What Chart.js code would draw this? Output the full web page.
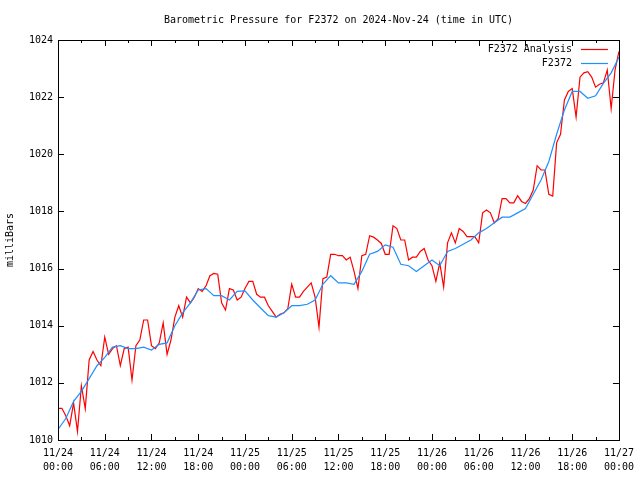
<!DOCTYPE html>
<html>
<head>
<meta charset="utf-8">
<title>Barometric Pressure F2372</title>
<script src="https://cdn.jsdelivr.net/npm/chart.js@4.4.1/dist/chart.umd.min.js"></script>
<style>
  body { margin: 0; background: #fff; }
  canvas { display: block; }
</style>
</head>
<body>
<canvas id="pressureChart" width="640" height="480"></canvas>
<script>
// analysis values, every 30 minutes from 11/24 00:00 (hours 0..72)
const analysisValues = [
    1011.11, 1011.11, 1010.85, 1010.5, 1011.3, 1010.3, 1011.9, 1011.1, 1012.8, 1013.1,
    1012.8, 1012.6, 1013.6, 1013.0, 1013.2, 1013.3, 1012.6, 1013.2, 1013.25, 1012.1,
    1013.3, 1013.5, 1014.2, 1014.2, 1013.3, 1013.2, 1013.4, 1014.1, 1013.0, 1013.5,
    1014.3, 1014.7, 1014.3, 1015.0, 1014.8, 1015.0, 1015.3, 1015.2, 1015.4, 1015.75,
    1015.83, 1015.8, 1014.8, 1014.55, 1015.3, 1015.25, 1014.9, 1015.0, 1015.3, 1015.55,
    1015.55, 1015.1, 1015.0, 1015.0, 1014.7, 1014.5, 1014.3, 1014.4, 1014.45, 1014.6,
    1015.45, 1015.0, 1015.0, 1015.2, 1015.35, 1015.5, 1015.0, 1013.95, 1015.65, 1015.7,
    1016.5, 1016.5, 1016.45, 1016.45, 1016.3, 1016.4, 1015.9, 1015.3, 1016.45, 1016.5,
    1017.15, 1017.1, 1017.0, 1016.88, 1016.5, 1016.5, 1017.5, 1017.4, 1017.0, 1017.0,
    1016.3, 1016.4, 1016.4, 1016.6, 1016.7, 1016.3, 1016.1, 1015.55, 1016.2, 1015.35,
    1016.9, 1017.25, 1016.9, 1017.4, 1017.3, 1017.12, 1017.12, 1017.12, 1016.9, 1017.95,
    1018.05, 1017.95, 1017.6, 1017.75, 1018.45, 1018.45, 1018.3, 1018.3, 1018.55, 1018.35,
    1018.28, 1018.45, 1018.75, 1019.6, 1019.45, 1019.45, 1018.6, 1018.54, 1020.4, 1020.7,
    1021.9, 1022.2, 1022.3, 1021.3, 1022.7, 1022.85, 1022.89, 1022.7, 1022.35, 1022.45,
    1022.5, 1022.95, 1021.6, 1022.95, 1023.6
];

// station values, every hour (hours 0..72)
const stationValues = [
    1010.37, 1010.75, 1011.35, 1011.7, 1012.15, 1012.6, 1012.89, 1013.25, 1013.3, 1013.2,
    1013.2, 1013.25, 1013.15, 1013.35, 1013.4, 1014.0, 1014.45, 1014.8, 1015.25, 1015.3,
    1015.05, 1015.05, 1014.9, 1015.2, 1015.22, 1014.9, 1014.62, 1014.35, 1014.3, 1014.45,
    1014.7, 1014.7, 1014.75, 1014.9, 1015.45, 1015.75, 1015.5, 1015.5, 1015.45, 1015.9,
    1016.5, 1016.6, 1016.83, 1016.75, 1016.15, 1016.1, 1015.9, 1016.1, 1016.3, 1016.1,
    1016.6, 1016.7, 1016.85, 1017.0, 1017.25, 1017.4, 1017.6, 1017.8, 1017.8, 1017.95,
    1018.1, 1018.6, 1019.1, 1019.75, 1020.7, 1021.55, 1022.2, 1022.2, 1021.96, 1022.05,
    1022.48, 1022.85, 1023.4
];

const tickDates = ['11/24', '11/24', '11/24', '11/24', '11/25', '11/25', '11/25',
    '11/25', '11/26', '11/26', '11/26', '11/26', '11/27'];
const tickTimes = ['00:00', '06:00', '12:00', '18:00', '00:00', '06:00', '12:00',
    '18:00', '00:00', '06:00', '12:00', '18:00', '00:00'];

const TITLE = 'Barometric Pressure for F2372 on 2024-Nov-24 (time in UTC)';
const RED = '#ff0000';
const BLUE = '#1e90ff';
const FONT = { family: 'DejaVu Sans Mono', size: 10, weight: 'normal' };

const analysisPoints = analysisValues.map((v, i) => ({ x: i * 0.5, y: v }));
const stationPoints = stationValues.map((v, i) => ({ x: i, y: v }));

// frame with gnuplot style inward ticks, title and legend
const framePlugin = {
    id: 'frame',
    beforeDraw(chart) {
        const ctx = chart.ctx;
        ctx.save();
        ctx.fillStyle = '#fff';
        ctx.fillRect(0, 0, chart.width, chart.height);
        ctx.restore();
    },
    afterDraw(chart) {
        const ctx = chart.ctx;
        const a = chart.chartArea;
        const xs = chart.scales.x;
        const ys = chart.scales.y;
        ctx.save();
        ctx.strokeStyle = '#000';
        ctx.lineWidth = 1;
        ctx.beginPath();
        for (let h = 0; h <= 72; h += 3) {
            const px = Math.round(xs.getPixelForValue(h)) + 0.5;
            const len = h % 6 === 0 ? 6 : 3;
            ctx.moveTo(px, a.bottom);
            ctx.lineTo(px, a.bottom - len);
            ctx.moveTo(px, a.top);
            ctx.lineTo(px, a.top + len);
        }
        for (let p = 1010; p <= 1024; p += 2) {
            const py = Math.round(ys.getPixelForValue(p)) + 0.5;
            ctx.moveTo(a.left, py);
            ctx.lineTo(a.left + 6, py);
            ctx.moveTo(a.right, py);
            ctx.lineTo(a.right - 6, py);
        }
        ctx.stroke();
        ctx.strokeRect(Math.round(a.left) + 0.5, Math.round(a.top) + 0.5,
            Math.round(a.right - a.left), Math.round(a.bottom - a.top));

        ctx.font = FONT.size + 'px ' + FONT.family;
        ctx.fillStyle = '#000';
        ctx.textBaseline = 'middle';
        ctx.textAlign = 'center';
        ctx.fillText(TITLE, (a.left + a.right) / 2, 20);

        // legend, top right inside the plot
        ctx.textAlign = 'right';
        const colors = [RED, BLUE];
        chart.data.datasets.forEach((ds, i) => {
            const y = Math.round(a.top + 9 + i * 14) + 0.5;
            ctx.fillStyle = '#000';
            ctx.fillText(ds.label, a.right - 47, y);
            ctx.strokeStyle = colors[i];
            ctx.lineWidth = 1.2;
            ctx.beginPath();
            ctx.moveTo(a.right - 38, y);
            ctx.lineTo(a.right - 11, y);
            ctx.stroke();
        });
        ctx.restore();
    }
};

const ctx = document.getElementById('pressureChart').getContext('2d');
const pressureChart = new Chart(ctx, {
    type: 'line',
    data: {
        datasets: [{
            label: 'F2372 Analysis',
            data: analysisPoints,
            borderColor: RED,
            borderWidth: 1.2,
            pointRadius: 0,
            tension: 0,
            order: 1
        }, {
            label: 'F2372',
            data: stationPoints,
            borderColor: BLUE,
            borderWidth: 1.2,
            pointRadius: 0,
            tension: 0,
            order: 0
        }]
    },
    options: {
        responsive: false,
        animation: false,
        layout: { padding: { top: 40, right: 19, bottom: 0, left: 0 } },
        plugins: {
            legend: { display: false },
            tooltip: { enabled: false },
            title: { display: false }
        },
        scales: {
            x: {
                type: 'linear',
                min: 0,
                max: 72,
                grid: { display: false, drawTicks: false },
                border: { display: false },
                ticks: {
                    stepSize: 6,
                    autoSkip: false,
                    maxRotation: 0,
                    padding: 6,
                    color: '#000',
                    font: { family: FONT.family, size: 10, lineHeight: 1.4 },
                    callback: function (value) {
                        const i = Math.round(value / 6);
                        return [tickDates[i], tickTimes[i]];
                    }
                },
                afterFit: function (scale) { scale.height = 40; }
            },
            y: {
                min: 1010,
                max: 1024,
                grid: { display: false, drawTicks: false },
                border: { display: false },
                title: {
                    display: true,
                    text: 'milliBars',
                    color: '#000',
                    font: FONT,
                    padding: { top: 4, bottom: 0 }
                },
                ticks: {
                    stepSize: 2,
                    padding: 5,
                    color: '#000',
                    font: FONT,
                    callback: function (value) { return String(value); }
                },
                afterFit: function (scale) { scale.width = 58; }
            }
        }
    },
    plugins: [framePlugin]
});
</script>
</body>
</html>
